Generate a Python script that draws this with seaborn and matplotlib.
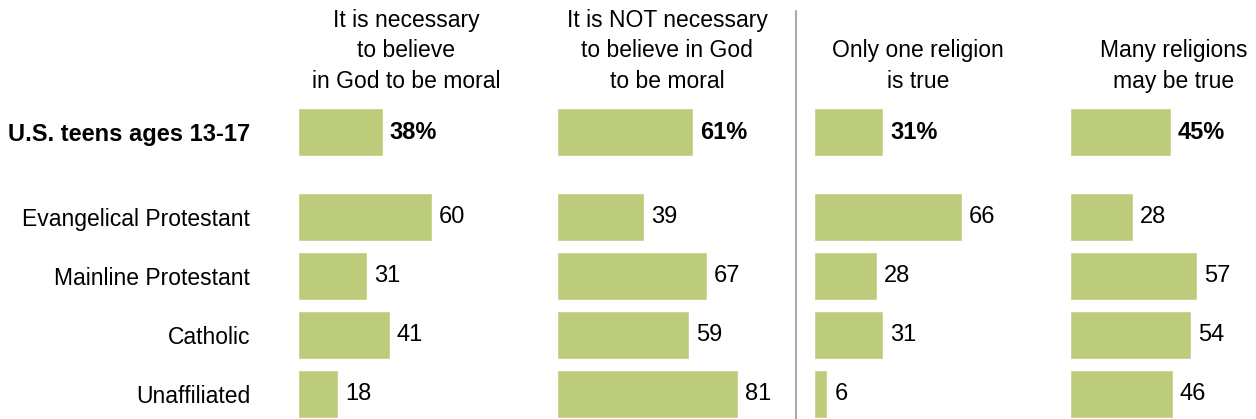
import matplotlib
matplotlib.use("Agg")
import matplotlib.pyplot as plt
import seaborn as sns
import pandas as pd

# Survey results: share of teens holding each view
total_label = "U.S. teens ages 13-17"
groups = ["Evangelical Protestant", "Mainline Protestant", "Catholic", "Unaffiliated"]
measures = [
    "It is necessary\nto believe\nin God to be moral",
    "It is NOT necessary\nto believe in God\nto be moral",
    "Only one religion\nis true",
    "Many religions\nmay be true",
]
total_values = [38, 61, 31, 45]
necessary_god = [60, 31, 41, 18]
not_necessary_god = [39, 67, 59, 81]
one_true = [66, 28, 31, 6]
many_true = [28, 57, 54, 46]

group_values = [necessary_god, not_necessary_god, one_true, many_true]

rows = []
for m, tv, gv in zip(measures, total_values, group_values):
    rows.append({"measure": m, "group": total_label, "value": tv, "kind": "total"})
    for g, v in zip(groups, gv):
        rows.append({"measure": m, "group": g, "value": v, "kind": "group"})
df = pd.DataFrame(rows)

sns.set_theme(style="white")
plt.rcParams["font.family"] = ["Liberation Sans", "DejaVu Sans"]

W, H = 1256, 419
fig = plt.figure(figsize=(W / 100, H / 100), dpi=100)

GREEN = "#bdcc7a"
PX_PER_UNIT = 2.235
panel_lefts = [298, 557, 814, 1070]
header_x = [406, 667, 918, 1174]
AX_W = 240
ROW = 59
FS = 16.5


def add_px_axes(left, top, width, height):
    return fig.add_axes([left / W, 1 - (top + height) / H, width / W, height / H])


for i, m in enumerate(measures):
    left = panel_lefts[i]
    sub = df[df["measure"] == m]

    # Overall row
    ax_t = add_px_axes(left, 132 - ROW / 2, AX_W, ROW)
    tdat = sub[sub["kind"] == "total"]
    sns.barplot(data=tdat, x="value", y="group", orient="h", color=GREEN,
                width=0.83, saturation=1, ax=ax_t)
    ax_t.bar_label(ax_t.containers[0], labels=[f"{v}%" for v in tdat["value"]],
                   padding=5, fontsize=FS + 0.5, fontweight="bold", color="black")

    # Religious groups
    ax_g = add_px_axes(left, 217 - ROW / 2, AX_W, ROW * 4)
    gdat = sub[sub["kind"] == "group"]
    sns.barplot(data=gdat, x="value", y="group", orient="h", color=GREEN,
                width=0.83, saturation=1, ax=ax_g)
    ax_g.bar_label(ax_g.containers[0], labels=[str(v) for v in gdat["value"]],
                   padding=5, fontsize=FS + 0.5, color="black")

    for ax in (ax_t, ax_g):
        ax.set_xlim(0, AX_W / PX_PER_UNIT)
        ax.set_xlabel("")
        ax.set_ylabel("")
        ax.set_xticks([])
        sns.despine(ax=ax, left=True, bottom=True)
        ax.patch.set_alpha(0)
        if i == 0:
            ax.tick_params(axis="y", length=0, pad=34.5, labelsize=FS,
                           labelcolor="black")
        else:
            ax.set_yticks([])
    if i == 0:
        for lab in ax_t.get_yticklabels():
            lab.set_fontweight("bold")
            lab.set_fontsize(17)

    fig.text(header_x[i] / W, 1 - 93 / H, m, ha="center", va="bottom",
             fontsize=FS, linespacing=1.42, color="black")

# Divider between the two question pairs
fig.add_artist(plt.Line2D([795.7 / W, 795.7 / W], [0, 1 - 11 / H],
                          color="#aaaaaa", linewidth=1.5))

fig.savefig("out.png", dpi=100)
